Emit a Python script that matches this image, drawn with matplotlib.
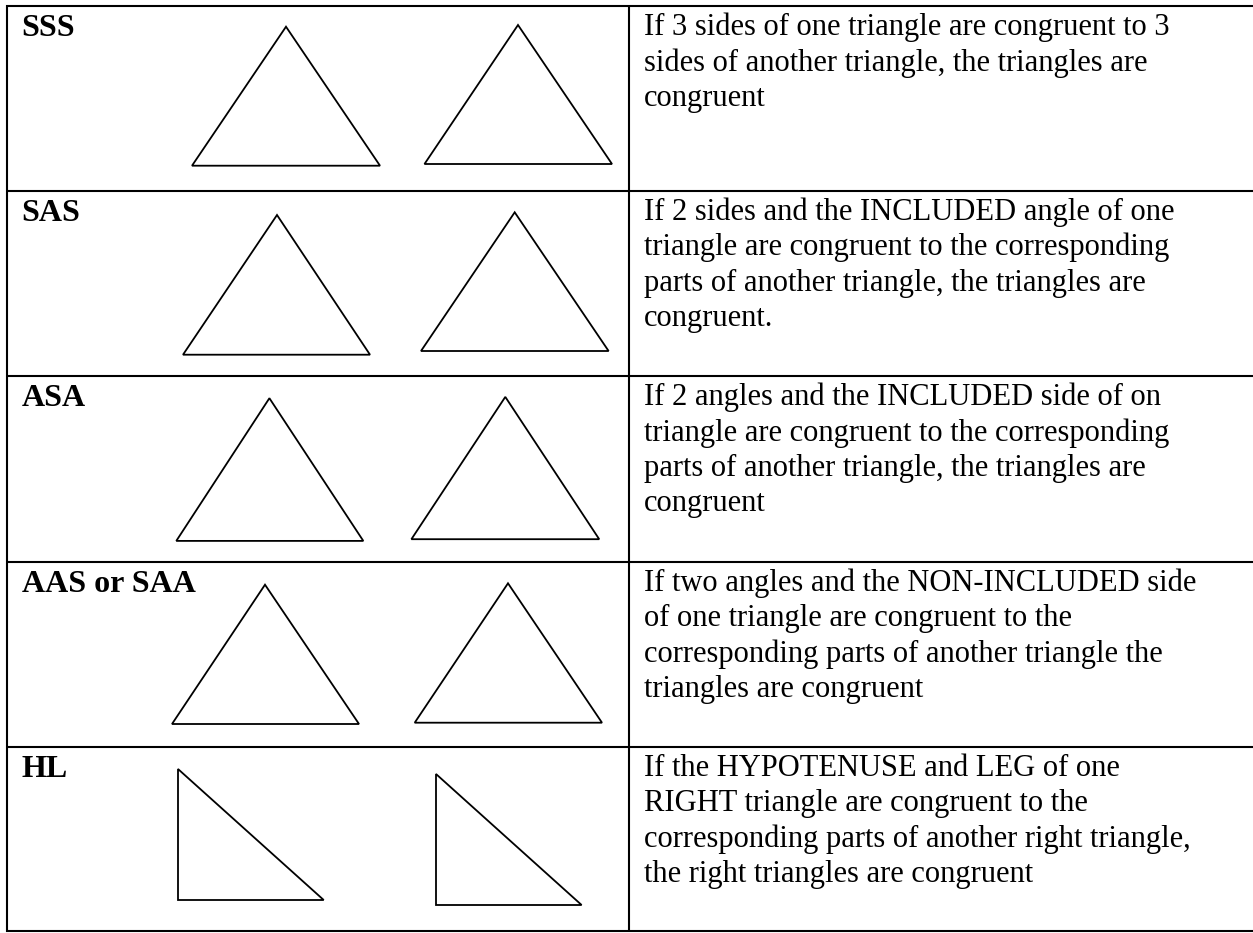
import matplotlib
matplotlib.use("Agg")
import matplotlib.pyplot as plt
from matplotlib.patches import Polygon

W, H = 1253, 933
DPI = 100

# Table structure (pixel coordinates)
row_lines = [5.7, 190.7, 375.7, 561.5, 746.6, 931.3]
left_x = 7.3
divider_x = 628.5

labels = ["SSS", "SAS", "ASA", "AAS or SAA", "HL"]

descriptions = [
    ["If 3 sides of one triangle are congruent to 3",
     "sides of another triangle, the triangles are",
     "congruent"],
    ["If 2 sides and the INCLUDED angle of one",
     "triangle are congruent to the corresponding",
     "parts of another triangle, the triangles are",
     "congruent."],
    ["If 2 angles and the INCLUDED side of on",
     "triangle are congruent to the corresponding",
     "parts of another triangle, the triangles are",
     "congruent"],
    ["If two angles and the NON-INCLUDED side",
     "of one triangle are congruent to the",
     "corresponding parts of another triangle the",
     "triangles are congruent"],
    ["If the HYPOTENUSE and LEG of one",
     "RIGHT triangle are congruent to the",
     "corresponding parts of another right triangle,",
     "the right triangles are congruent"],
]

# triangle vertices per row: (left triangle, right triangle)
triangles = [
    ([(192.0, 165.7), (380.0, 165.7), (286.0, 26.7)],
     [(424.5, 164.0), (612.0, 164.0), (518.0, 25.0)]),
    ([(183.0, 354.7), (370.0, 354.7), (277.0, 215.0)],
     [(421.0, 351.0), (608.6, 351.0), (514.7, 212.3)]),
    ([(176.3, 540.9), (363.3, 540.9), (269.4, 398.2)],
     [(411.4, 539.2), (599.2, 539.2), (505.3, 396.9)]),
    ([(172.0, 724.0), (359.0, 724.0), (265.0, 584.7)],
     [(414.7, 722.7), (602.0, 722.7), (508.0, 583.3)]),
    ([(178.0, 769.0), (178.0, 900.0), (323.7, 900.0)],
     [(436.0, 774.0), (436.0, 905.0), (581.6, 905.0)]),
]

fig = plt.figure(figsize=(W / DPI, H / DPI), dpi=DPI)
ax = fig.add_axes([0, 0, 1, 1])
ax.set_xlim(0, W)
ax.set_ylim(H, 0)
ax.axis("off")

border_lw = 1.5
# horizontal lines
for y in row_lines:
    ax.plot([left_x - 1, W + 5], [y, y], color="black", lw=border_lw,
            solid_capstyle="butt")
# vertical lines
ax.plot([left_x, left_x], [row_lines[0] - 0.7, row_lines[-1] + 0.7],
        color="black", lw=border_lw, solid_capstyle="butt")
ax.plot([divider_x, divider_x], [row_lines[0], row_lines[-1]], color="black",
        lw=border_lw, solid_capstyle="butt")

label_font = dict(family="Liberation Serif", fontweight="bold", fontsize=23)
body_font = dict(family="Liberation Serif", fontsize=22)
line_gap = 35.3

for i, (lab, desc, tris) in enumerate(zip(labels, descriptions, triangles)):
    top = row_lines[i]
    ax.text(21.5, top + 30.5, lab, va="baseline", ha="left", color="black",
            **label_font)
    for j, line in enumerate(desc):
        ax.text(644.0, top + 29.5 + j * line_gap, line, va="baseline",
                ha="left", color="black", **body_font)
    for tri in tris:
        ax.add_patch(Polygon(tri, closed=True, fill=False, edgecolor="black",
                             lw=1.3, joinstyle="miter"))

fig.savefig("out.png", dpi=DPI, facecolor="white")
